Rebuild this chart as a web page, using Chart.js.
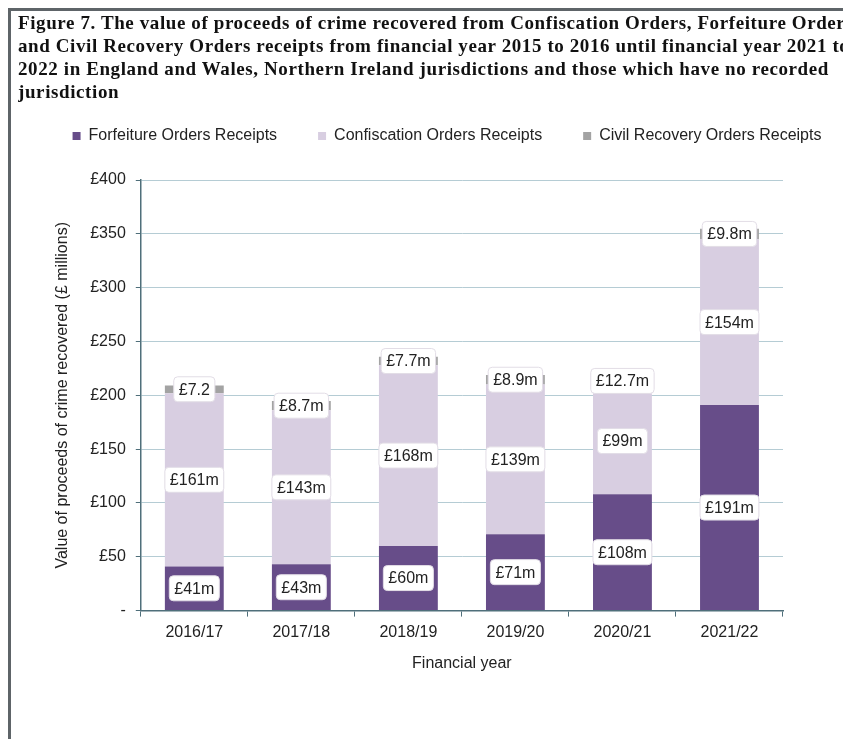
<!DOCTYPE html>
<html>
<head>
<meta charset="utf-8">
<script src="https://cdn.jsdelivr.net/npm/chart.js@4"></script>
<style>
  body { margin: 0; width: 843px; height: 739px; overflow: hidden; background: #fff; position: relative; }
  #frame { position: absolute; left: 8px; top: 8px; width: 900px; height: 740px;
           border-left: 3px solid #5e6468; border-top: 3px solid #5e6468; }
  #title { position: absolute; left: 18px; top: 11px; width: 825px; overflow: hidden;
           font-family: "Liberation Serif", serif; font-weight: bold; font-size: 19px;
           letter-spacing: 0.6px; line-height: 23px; color: #111; white-space: nowrap; z-index: 2; }
  #wrap { position: absolute; left: 10px; top: 87px; width: 868px; height: 645px; }
</style>
</head>
<body>
<div id="frame"></div>
<div id="title">
Figure 7. The value of proceeds of crime recovered from Confiscation Orders, Forfeiture Orders<br>
and Civil Recovery Orders receipts from financial year 2015 to 2016 until financial year 2021 to<br>
2022 in England and Wales, Northern Ireland jurisdictions and those which have no recorded<br>
jurisdiction
</div>
<div id="wrap"><canvas id="myChart"></canvas></div>
<script>
var years = ["2016/17", "2017/18", "2018/19", "2019/20", "2020/21", "2021/22"];
var forfeiture = [41, 43, 60, 71, 108, 191];
var confiscation = [161, 143, 168, 139, 99, 154];
var civil = [7.2, 8.7, 7.7, 8.9, 12.7, 9.8];
var forfeitureLabels = ["£41m", "£43m", "£60m", "£71m", "£108m", "£191m"];
var confiscationLabels = ["£161m", "£143m", "£168m", "£139m", "£99m", "£154m"];
var civilLabels = ["£7.2", "£8.7m", "£7.7m", "£8.9m", "£12.7m", "£9.8m"];

var FONT = "'Liberation Sans', Arial, sans-serif";

// white rounded boxes with the value in the middle of each segment
var segmentLabels = {
    id: "segmentLabels",
    afterDatasetsDraw: function (chart) {
        var ctx = chart.ctx;
        ctx.save();
        ctx.font = "16px " + FONT;
        ctx.textAlign = "center";
        ctx.textBaseline = "middle";
        chart.data.datasets.forEach(function (ds, i) {
            var meta = chart.getDatasetMeta(i);
            meta.data.forEach(function (bar, j) {
                var txt = ds.valueLabels[j];
                var cy = (bar.y + bar.base) / 2;
                var w = ctx.measureText(txt).width + 10;
                var h = 25;
                ctx.beginPath();
                ctx.roundRect(bar.x - w / 2, cy - h / 2, w, h, 4);
                ctx.fillStyle = "#ffffff";
                ctx.fill();
                ctx.strokeStyle = "#e2dde6";
                ctx.lineWidth = 1;
                ctx.stroke();
                ctx.fillStyle = "#222";
                ctx.fillText(txt, bar.x, cy + 1);
            });
        });
        ctx.restore();
    }
};

// keep the legend on one line and centre it like the original
var legendTweak = {
    id: "legendTweak",
    beforeInit: function (chart) {
        var fit = chart.legend.fit;
        chart.legend.fit = function () {
            this.maxWidth = 1000;
            fit.bind(chart.legend)();
            this.height = 93;
        };
    },
    afterLayout: function (chart) {
        chart.legend.left = 437 - 500;
        chart.legend.right = 437 + 500;
    }
};

var myChart = new Chart(document.getElementById("myChart"), {
    type: "bar",
    data: {
        labels: years,
        datasets: [
            { label: "Forfeiture Orders Receipts", data: forfeiture, valueLabels: forfeitureLabels,
              backgroundColor: "#674d89" },
            { label: "Confiscation Orders Receipts", data: confiscation, valueLabels: confiscationLabels,
              backgroundColor: "#d8cee1" },
            { label: "Civil Recovery Orders Receipts", data: civil, valueLabels: civilLabels,
              backgroundColor: "#a3a3a3" }
        ]
    },
    options: {
        responsive: true,
        maintainAspectRatio: false,
        animation: false,
        devicePixelRatio: 1,
        layout: { padding: { left: 39, right: 95, top: 0, bottom: 55 } },
        datasets: { bar: { barPercentage: 0.55, categoryPercentage: 1 } },
        plugins: {
            legend: {
                position: "top",
                labels: {
                    boxWidth: 8, boxHeight: 8, padding: 41,
                    color: "#222", font: { family: FONT, size: 16 }
                }
            },
            tooltip: { enabled: false }
        },
        scales: {
            x: {
                stacked: true,
                grid: { drawOnChartArea: false, color: "#4f6f7a", tickLength: 6, offset: true },
                border: { color: "#4f6f7a", width: 1.5 },
                ticks: { color: "#222", font: { family: FONT, size: 16 }, padding: 6 },
                title: { display: true, text: "Financial year", color: "#222",
                         font: { family: FONT, size: 16 }, padding: { top: 6 } }
            },
            y: {
                stacked: true,
                min: 0, max: 400,
                ticks: {
                    stepSize: 50, color: "#222", font: { family: FONT, size: 16 }, padding: 10,
                    callback: function (v) { return v === 0 ? "-" : "£" + v; }
                },
                grid: { color: "#b5ccd4", tickLength: 5, tickColor: "#4f6f7a" },
                border: { color: "#4f6f7a", width: 1.5 },
                title: { display: true, text: "Value of proceeds of crime recovered (£ millions)",
                         color: "#222", font: { family: FONT, size: 16 }, padding: { bottom: 8 } }
            }
        }
    },
    plugins: [segmentLabels, legendTweak]
});
</script>
</body>
</html>
